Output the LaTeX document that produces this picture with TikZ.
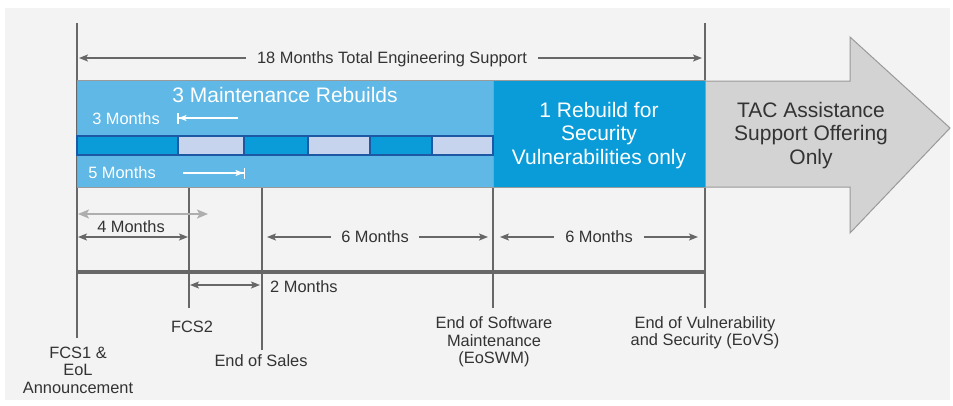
\documentclass[tikz,border=0pt]{standalone}
\usepackage{fontspec}
\setmainfont{Liberation Sans}
\usetikzlibrary{arrows.meta}
\definecolor{bgpanel}{HTML}{F3F3F3}
\definecolor{lightblue}{HTML}{5FB8E5}
\definecolor{midblue}{HTML}{0A9CD8}
\definecolor{segdark}{HTML}{0A9CD8}
\definecolor{seglight}{HTML}{C6D4EE}
\definecolor{segedge}{HTML}{1C58A4}
\definecolor{linegray}{HTML}{676767}
\definecolor{txtgray}{HTML}{333333}
\definecolor{arrowfill}{HTML}{D3D3D3}
\definecolor{arrowedge}{HTML}{9A9A9A}
\definecolor{paletip}{HTML}{AEAEAE}
\tikzset{
  tipd/.tip={Stealth[length=9pt,width=7pt,inset=2pt]},
  tipw/.tip={Stealth[length=8pt,width=6pt,inset=2pt]},
  tipg/.tip={Stealth[length=11pt,width=9pt,inset=2.5pt]},
  tipbar/.tip={Bar[width=11pt,line width=1.5pt]}
}
\begin{document}
\begin{tikzpicture}[x=1pt,y=-1pt,
  vline/.style={draw=linegray,line width=1.9pt},
  dimline/.style={draw=linegray,line width=1.3pt},
  lbl/.style={text=txtgray,font=\fontsize{16.4}{17.5}\selectfont,inner sep=0pt,text height=12.6pt,text depth=1pt},
  mlbl/.style={text=txtgray,font=\fontsize{16.4}{17.5}\selectfont,inner sep=0pt,align=center},
  wlbl/.style={text=white,font=\fontsize{16.4}{17.5}\selectfont,inner sep=0pt,text height=12.6pt,text depth=1pt},
  bigw/.style={text=white,font=\fontsize{21}{23.5}\selectfont,inner sep=0pt,text height=16pt,text depth=1pt},
  bigm/.style={font=\fontsize{21}{23.5}\selectfont,inner sep=0pt,align=center},
  boxst/.style={draw=arrowedge,line width=1pt,anchor=north west,inner sep=0pt,outer sep=0pt},
  seg/.style={draw=segedge,line width=1.4pt}
]
\useasboundingbox (0,0) rectangle (953,405);
\fill[white] (0,0) rectangle (953,405);
\fill[bgpanel] (5,8) rectangle (950,400);

% vertical markers
\coordinate (aTop) at (77,23);  \coordinate (aBot) at (77,338);
\coordinate (vTop) at (705,23); \coordinate (vBot) at (705,308);
\coordinate (swTop) at (493,188); \coordinate (swBot) at (493,308);
\coordinate (f2Top) at (189,188); \coordinate (f2Bot) at (189,308);
\coordinate (esTop) at (262,188); \coordinate (esBot) at (262,350);
\draw[vline] (aTop) -- (aBot);
\draw[vline] (vTop) -- (vBot);
\draw[vline] (swTop) -- (swBot);
\draw[vline] (f2Top) -- (f2Bot);
\draw[vline] (esTop) -- (esBot);

% gray arrow
\draw[fill=arrowfill,draw=arrowedge,line width=1pt]
  (705,81) -- (850,81) -- (850,37) -- (950,128) -- (850,233) -- (850,187) -- (705,187) -- cycle;
\node[bigm,text=txtgray] (tac) at (811,135.5) {TAC Assistance\\Support Offering\\Only};

% boxes
\node[boxst,fill=lightblue,minimum width=416pt,minimum height=107pt] (maint) at (77,80.5) {};
\node[boxst,fill=midblue,minimum width=212pt,minimum height=107pt] (sec) at (493,80.5) {};
\node[bigm,text=white] (sectxt) at (599,135.5) {1 Rebuild for\\Security\\Vulnerabilities only};
\node[bigw] (rebuilds) at (285,95) {3 Maintenance Rebuilds};

% segment bar
\foreach \a/\b/\c in {77/178/segdark,178/244/seglight,244/308/segdark,308/370/seglight,370/432/segdark,432/493/seglight}
  \draw[seg,fill=\c] (\a,136) rectangle (\b,155);

% 3 / 5 months
\node[wlbl] (m3) at (126,119) {3 Months};
\coordinate (m3a) at (238,118); \coordinate (m3b) at (177,118);
\draw[white,line width=1.3pt,-{tipw[]tipbar[]}] (m3a) -- (m3b);
\node[wlbl] (m5) at (122,173) {5 Months};
\coordinate (m5a) at (183,173); \coordinate (m5b) at (245,173);
\draw[white,line width=1.3pt,-{tipw[]tipbar[]}] (m5a) -- (m5b);

% top arrow
\node[lbl,inner xsep=11pt] (total) at (392,58) {18 Months Total Engineering Support};
\coordinate (tL) at (79,58); \coordinate (tR) at (702,58);
\draw[dimline,-{tipd[]}] (total) -- (tL);
\draw[dimline,-{tipd[]}] (total) -- (tR);

% main horizontal line
\coordinate (hL) at (77,272); \coordinate (hR) at (705,272);
\draw[draw=linegray,line width=3.5pt] (hL) -- (hR);

% 4 months
\coordinate (g4L) at (78,214); \coordinate (g4R) at (208,214);
\draw[draw=paletip,line width=1.6pt,{tipg[]}-{tipg[]}] (g4L) -- (g4R);
\node[lbl] (four) at (131,227) {4 Months};
\coordinate (d4L) at (78,237); \coordinate (d4R) at (188,237);
\draw[dimline,{tipd[]}-{tipd[]}] (d4L) -- (d4R);

% 6 months (maintenance)
\node[lbl,inner xsep=10pt] (six1) at (375,237) {6 Months};
\coordinate (s1L) at (267,237); \coordinate (s1R) at (488,237);
\draw[dimline,-{tipd[]}] (six1) -- (s1L);
\draw[dimline,-{tipd[]}] (six1) -- (s1R);

% 6 months (security)
\node[lbl,inner xsep=11pt] (six2) at (599,237) {6 Months};
\coordinate (s2L) at (500,237); \coordinate (s2R) at (698,237);
\draw[dimline,-{tipd[]}] (six2) -- (s2L);
\draw[dimline,-{tipd[]}] (six2) -- (s2R);

% 2 months
\coordinate (t2L) at (190,285); \coordinate (t2R) at (260,285);
\draw[dimline,{tipd[]}-{tipd[]}] (t2L) -- (t2R);
\node[lbl,anchor=west] (two) at (270,287) {2 Months};

% bottom labels
\node[mlbl] (fcs1) at (78,370) {FCS1 \&\\EoL\\Announcement};
\node[lbl] (fcs2) at (192,327) {FCS2};
\node[lbl] (eos) at (261,361) {End of Sales};
\node[mlbl] (eoswm) at (494,342) {End of Software\\Maintenance\\(EoSWM)};
\node[mlbl] (eovs) at (705,333) {End of Vulnerability\\and Security (EoVS)};
\end{tikzpicture}
\end{document}
